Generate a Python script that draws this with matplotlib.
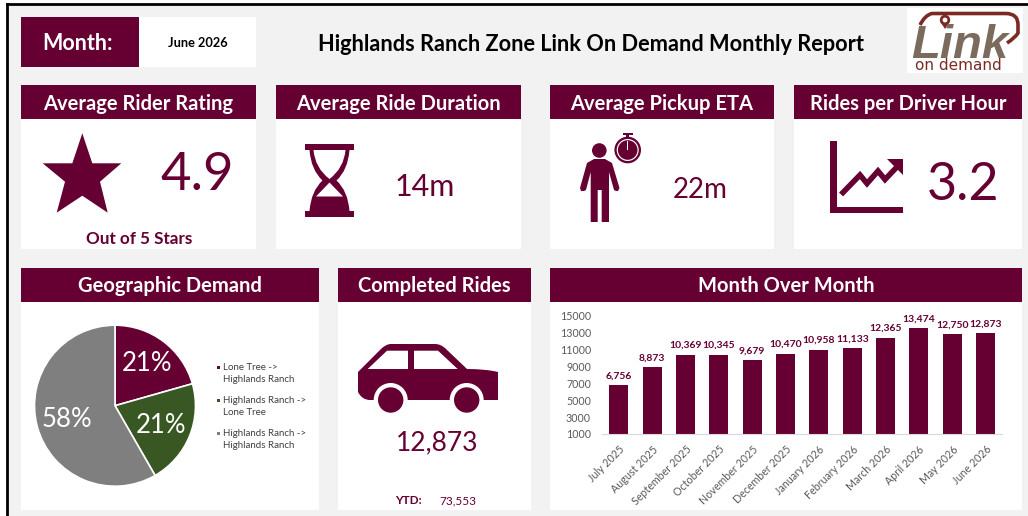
import numpy as np
import matplotlib
matplotlib.use("Agg")
import matplotlib.pyplot as plt
from matplotlib.patches import Rectangle, Polygon, Circle, PathPatch
from matplotlib.path import Path

plt.rcParams['font.family'] = ['Lato', 'DejaVu Sans']

W, H = 1028, 516
MAROON = "#660033"
GREEN = "#385723"
GREY = "#7f7f7f"
BG = "#f2f2f2"

# data
months = ["July 2025", "August 2025", "September 2025", "October 2025", "November 2025",
          "December 2025", "January 2026", "February 2026", "March 2026", "April 2026",
          "May 2026", "June 2026"]
rides = [6756, 8873, 10369, 10345, 9679, 10470, 10958, 11133, 12365, 13474, 12750, 12873]
y_ticks = [1000, 3000, 5000, 7000, 9000, 11000, 13000, 15000]

demand_labels = ["Lone Tree ->\nHighlands Ranch", "Highlands Ranch ->\nLone Tree",
                 "Highlands Ranch ->\nHighlands Ranch"]
demand_share = [20.6, 21.1, 58.3]

report_month = "June 2026"
report_title = "Highlands Ranch Zone Link On Demand Monthly Report"
avg_rating = "4.9"
avg_duration = "14m"
avg_eta = "22m"
rides_per_hour = "3.2"
completed = "12,873"
ytd = "73,553"


def px_axes(fig, x0, y0, x1, y1):
    # axes placed with pixel coords measured from the top left
    return fig.add_axes([x0 / W, 1 - y1 / H, (x1 - x0) / W, (y1 - y0) / H])


def panel(ax, x0, x1, y0, y_head, y1, title):
    ax.add_patch(Rectangle((x0, y_head), x1 - x0, y1 - y_head, color="white", lw=0))
    ax.add_patch(Rectangle((x0, y0), x1 - x0, y_head - y0, color=MAROON, lw=0))
    ax.text((x0 + x1) / 2, (y0 + y_head) / 2 + 1.5, title, color="white", fontsize=14.5,
            fontweight="bold", ha="center", va="center")


def draw_star(ax):
    ax.add_patch(Polygon([(82.3, 133.3), (92.3, 163.3), (121.3, 163.3), (100, 181.7), (107.7, 212.7),
                          (82.3, 195.7), (56.7, 212.7), (65, 181.7), (42.7, 163.3), (72.3, 163.3)],
                         color=MAROON, lw=0))


def draw_hourglass(ax):
    ax.add_patch(Rectangle((305, 144.3), 49, 6, color=MAROON, lw=0))
    ax.add_patch(Rectangle((305, 210.7), 49, 6, color=MAROON, lw=0))
    # glass outline, both sides bulge out from the waist
    codes = [Path.MOVETO, Path.CURVE3, Path.CURVE3, Path.CURVE3, Path.CURVE3, Path.LINETO,
             Path.CURVE3, Path.CURVE3, Path.CURVE3, Path.CURVE3, Path.CLOSEPOLY]
    pts = [(309.5, 150), (311, 170), (322.5, 180.5), (311, 191), (309.5, 211),
           (349.5, 211), (348, 191), (336.5, 180.5), (348, 170), (349.5, 150), (309.5, 150)]
    ax.add_patch(PathPatch(Path(pts, codes), color=MAROON, lw=0))
    # empty top bulb
    codes = [Path.MOVETO, Path.CURVE3, Path.CURVE3, Path.CURVE3, Path.CURVE3, Path.CLOSEPOLY]
    pts = [(313.5, 150), (315, 168), (329.5, 179), (344, 168), (345.5, 150), (313.5, 150)]
    ax.add_patch(PathPatch(Path(pts, codes), color="white", lw=0))
    # empty part of the lower bulb, above the sand
    ax.add_patch(Polygon([(329.5, 182.5), (343, 196.5), (316, 196.5)], color="white", lw=0))


def draw_person(ax):
    ax.add_patch(Circle((599.3, 150.5), 7.3, color=MAROON, lw=0))
    ax.add_patch(Polygon([(587, 163), (594, 159), (605, 159), (612, 163), (619.5, 188), (618, 191),
                          (616, 191), (614, 190), (609, 172), (609, 222), (601.7, 222), (601.7, 190),
                          (597.7, 190), (597.7, 222), (590.7, 222), (590.7, 172), (586, 190),
                          (584, 191), (581, 191), (580, 188)], color=MAROON, lw=0))
    # stopwatch
    ax.add_patch(Circle((627.7, 150), 13.3, color=MAROON, lw=0))
    ax.add_patch(Circle((627.7, 150), 11, color="white", lw=0))
    ax.add_patch(Circle((627.7, 150), 9.8, color=MAROON, lw=0))
    ax.add_patch(Rectangle((627.2, 141), 1, 9, color="white", lw=0))
    ax.add_patch(Rectangle((623, 133), 9.7, 2, color=MAROON, lw=0))
    ax.add_patch(Rectangle((626.2, 134), 3, 3.5, color=MAROON, lw=0))


def draw_growth(ax):
    ax.add_patch(Rectangle((830, 141), 6.7, 72.3, color=MAROON, lw=0))
    ax.add_patch(Rectangle((830, 206.7), 73.3, 6.6, color=MAROON, lw=0))
    ax.plot([843, 860, 867, 878, 885, 895], [192.5, 175, 183.5, 171, 179.5, 169], color=MAROON, lw=4,
            solid_joinstyle="miter")
    ax.add_patch(Polygon([(886.7, 159.3), (903.3, 159.3), (903.3, 175)], color=MAROON, lw=0))


def draw_car(ax):
    M, L, Q = Path.MOVETO, Path.LINETO, Path.CURVE3
    codes = [M, L, Q, Q, L, Q, Q, L, Q, Q, L, Q, Q, L, L, Q, Q, L, Q, Q]
    pts = [(358, 372), (381, 349), (386, 344), (391, 344), (435, 344), (441, 344), (446, 349), (467, 369),
           (486, 369), (498, 372), (498, 385), (498, 395), (498, 400), (493, 400), (370, 400),
           (362, 400), (358, 392), (358, 385), (358, 378), (358, 372)]
    ax.add_patch(PathPatch(Path(pts, codes), color=MAROON, lw=0))
    ax.add_patch(Polygon([(367.7, 369), (387, 350.7), (408, 350.7), (408, 369)], color="white", lw=0))
    ax.add_patch(Polygon([(414, 350.7), (438, 350.7), (457.7, 369), (414, 369)], color="white", lw=0))
    for cx in (390.7, 466.7):
        ax.add_patch(Circle((cx, 400), 17, color="white", lw=0))
        ax.add_patch(Circle((cx, 400), 12.7, color=MAROON, lw=0))


def draw_logo(ax):
    ax.add_patch(Rectangle((907, 8), 115.5, 64.5, color="white", lw=0))
    red = "#7b2a22"
    M, L, Q = Path.MOVETO, Path.LINETO, Path.CURVE3
    pts = [(920, 25), (925, 15), (932, 13.5), (1006, 13.5), (1018, 13.5), (1018, 25), (1018, 33),
           (1015, 38), (1007, 43)]
    codes = [M, Q, Q, L, Q, Q, L, Q, Q]
    ax.add_patch(PathPatch(Path(pts, codes), fill=False, edgecolor=red, lw=2.6))
    ax.add_patch(Polygon([(940.5, 22), (949.5, 22), (945, 29)], color=red, lw=0))
    ax.add_patch(Circle((945, 20), 5.2, color=red, lw=0))
    ax.add_patch(Circle((945, 20), 2.4, color="white", lw=0))
    ax.text(911, 57.5, "Link", color="#7a6b5d", fontsize=34, fontweight="bold", style="italic",
            ha="left", va="baseline", family=["Liberation Sans Narrow", "Liberation Sans", "DejaVu Sans"])
    ax.text(958, 65, "on demand", color=red, fontsize=11, ha="center", va="center",
            family=["DejaVu Sans"])


fig = plt.figure(figsize=(W / 100, H / 100), dpi=100, facecolor="white")
bg = px_axes(fig, 0, 0, W, H)
bg.set_xlim(0, W)
bg.set_ylim(H, 0)
bg.axis("off")

# sheet background and black frame
bg.add_patch(Rectangle((7, 4), W - 7, H - 4, facecolor=BG, edgecolor="none"))
bg.plot([6.5, W], [4, 4], color="black", lw=2)
bg.plot([6.5, 6.5], [4, H], color="black", lw=2)

# top row
bg.add_patch(Rectangle((21, 17), 118, 50, color=MAROON, lw=0))
bg.add_patch(Rectangle((139, 17), 117, 50, color="white", lw=0))
bg.text(78, 43.5, "Month:", color="white", fontsize=15.5, fontweight="bold", ha="center", va="center")
bg.text(197.5, 43, report_month, color="black", fontsize=9.2, fontweight="bold", ha="center", va="center")
bg.text(591, 44.5, report_title, color="black", fontsize=15.7, fontweight="bold", ha="center", va="center")
draw_logo(bg)

# kpi row
panel(bg, 21, 256, 85, 119, 249, "Average Rider Rating")
panel(bg, 276, 521, 85, 119, 249, "Average Ride Duration")
panel(bg, 550, 774, 85, 119, 249, "Average Pickup ETA")
panel(bg, 794, 1022, 85, 119, 249, "Rides per Driver Hour")

draw_star(bg)
bg.text(197.5, 176, avg_rating, color=MAROON, fontsize=38, ha="center", va="center")
bg.text(139.5, 238.5, "Out of 5 Stars", color=MAROON, fontsize=12.3, fontweight="bold", ha="center", va="center")
draw_hourglass(bg)
bg.text(424.5, 187.5, avg_duration, color=MAROON, fontsize=22, ha="center", va="center")
draw_person(bg)
bg.text(700, 189.5, avg_eta, color=MAROON, fontsize=20, ha="center", va="center")
draw_growth(bg)
bg.text(963, 185, rides_per_hour, color=MAROON, fontsize=37.5, ha="center", va="center")

# bottom row
panel(bg, 21, 319, 268, 302, 510, "Geographic Demand")
panel(bg, 338, 531, 268, 302, 510, "Completed Rides")
panel(bg, 550, 1022, 268, 302, 510, "Month Over Month")

draw_car(bg)
bg.text(437.5, 443, completed, color=MAROON, fontsize=19, ha="center", va="center")
bg.text(408, 501, "YTD:", color=MAROON, fontsize=8.5, fontweight="bold", ha="center", va="center")
bg.text(458, 501, ytd, color=MAROON, fontsize=8.5, ha="center", va="center")

# pie
pie_ax = px_axes(fig, 34.5, 325.2, 195.5, 486.2)
pie_colors = [MAROON, GREEN, GREY]
wedges, _, autotexts = pie_ax.pie(demand_share, colors=pie_colors, startangle=90, counterclock=False,
                                  radius=1.0, autopct="%.0f%%", pctdistance=0.66,
                                  wedgeprops={"edgecolor": "white", "linewidth": 1.2})
for t in autotexts:
    t.set_color("white")
    t.set_fontsize(18.5)
# small nudges, the source labels sit a little off the computed spot
autotexts[1].set_x(autotexts[1].get_position()[0] - 0.04)
autotexts[2].set_x(autotexts[2].get_position()[0] + 0.04)
pie_ax.set_xlim(-1, 1)
pie_ax.set_ylim(-1, 1)

# legend drawn by hand so each two line entry lands where the source has it
legend_y = [373.5, 406.5, 439.5]
for lab, col, ly in zip(demand_labels, pie_colors, legend_y):
    bg.add_patch(Rectangle((216.5, ly - 8), 3.5, 3.5, color=col, lw=0))
    bg.text(223, ly, lab, color="#404040", fontsize=7, ha="left", va="center", linespacing=1.55)

# bars
bar_ax = px_axes(fig, 602, 315.3, 1002.4, 434)
bar_ax.patch.set_alpha(0)
x = np.arange(len(months))
bars = bar_ax.bar(x, rides, bottom=0, width=0.57, color=MAROON)
bar_ax.set_xlim(-0.5, len(months) - 0.5)
bar_ax.set_ylim(1000, 15000)
bar_ax.set_yticks(y_ticks)
bar_ax.set_xticks(x)
bar_ax.set_xticklabels(months, rotation=45, ha="right", rotation_mode="anchor")
bar_ax.tick_params(axis="both", length=0, labelsize=7.7, labelcolor="#595959")
bar_ax.tick_params(axis="x", pad=7)
bar_ax.tick_params(axis="y", pad=8)
for s in ["top", "right", "left"]:
    bar_ax.spines[s].set_visible(False)
bar_ax.spines["bottom"].set_color("#d9d9d9")
for xi, v in zip(x, rides):
    bar_ax.annotate(f"{v:,}", (xi, v), xytext=(0, 3.5), textcoords="offset points", ha="center", va="bottom",
                    color=MAROON, fontsize=7.5, fontweight="bold", annotation_clip=False)

fig.savefig("out.png", dpi=100)
